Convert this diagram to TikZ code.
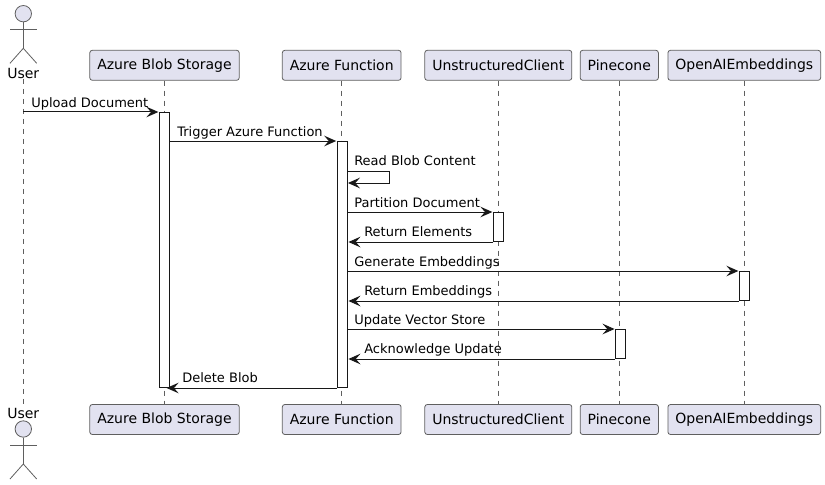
\documentclass[tikz,border=0pt]{standalone}
\usepackage{fontspec}
\setmainfont{DejaVu Sans}
\usetikzlibrary{arrows.meta}
\definecolor{boxfill}{HTML}{E2E2F0}
\definecolor{boxline}{HTML}{5F5F5F}
\definecolor{msgline}{HTML}{181818}
\tikzset{
  party/.style={draw=boxline, fill=boxfill, line width=0.6pt, rounded corners=1.9pt,
    minimum height=22.5pt, inner xsep=5.6pt, inner ysep=0pt, font=\fontsize{10.5pt}{12pt}\selectfont, text=black},
  life/.style={draw=boxline, line width=0.5pt, dash pattern=on 3.75pt off 3.75pt},
  bar/.style={draw=msgline, fill=white, line width=0.75pt, minimum width=7.5pt, inner sep=0pt},
  msg/.style={draw=msgline, line width=0.75pt, shorten >=0.5pt,
    -{Stealth[length=9pt, width=8pt, inset=3.5pt]}},
  msgtext/.style={anchor=base west, inner sep=0pt, font=\fontsize{9.75pt}{12pt}\selectfont, text=black},
  actorline/.style={draw=boxline, line width=0.6pt},
  actorhead/.style={circle, draw=boxline, fill=boxfill, line width=0.6pt, minimum size=12.3pt, inner sep=0pt},
  actorname/.style={inner sep=0pt, font=\fontsize{10.5pt}{12pt}\selectfont, text=black}
}
\begin{document}
\begin{tikzpicture}[x=0.75pt, y=-0.75pt]
  \useasboundingbox (0,0) rectangle (825,485);

  % participants
  \node (blobT) at (164.5, 65.3) [party] {Azure Blob Storage};
  \node (funcT) at (341.7, 65.3) [party] {Azure Function};
  \node (unstT) at (498.3, 65.3) [party] {UnstructuredClient};
  \node (pineT) at (619.3, 65.3) [party] {Pinecone};
  \node (embT)  at (744.3, 65.3) [party] {OpenAIEmbeddings};

  \node (blobB) at (164.5, 419.5) [party] {Azure Blob Storage};
  \node (funcB) at (341.7, 419.5) [party] {Azure Function};
  \node (unstB) at (498.3, 419.5) [party] {UnstructuredClient};
  \node (pineB) at (619.3, 419.5) [party] {Pinecone};
  \node (embB)  at (744.3, 419.5) [party] {OpenAIEmbeddings};

  % actor, top and bottom
  \node (userT) at (23.3, 73.5) [actorname] {User};
  \node (userB) at (23.3, 413.0) [actorname] {User};
  \node (headT) at (23.3, 13.7) [actorhead] {};
  \node (headB) at (23.3, 429.0) [actorhead] {};

  \draw [actorline] (headT.south) -- (23.3, 48.3);
  \draw [actorline] (10.0, 29.0) -- (36.7, 29.0);
  \draw [actorline] (10.0, 63.3) -- (23.3, 48.3) -- (36.7, 63.3);
  \draw [actorline] (headB.south) -- (23.3, 464.0);
  \draw [actorline] (10.0, 445.0) -- (36.7, 445.0);
  \draw [actorline] (10.0, 479.0) -- (23.3, 464.0) -- (36.7, 479.0);

  % lifelines
  \draw [life] (userT) -- (userB);
  \draw [life] (blobT) -- (blobB);
  \draw [life] (funcT) -- (funcB);
  \draw [life] (unstT) -- (unstB);
  \draw [life] (pineT) -- (pineB);
  \draw [life] (embT) -- (embB);

  % activations
  \node (barBlob) at (164.5, 250.0) [bar, minimum height=206.25pt] {};
  \node (barFunc) at (342.3, 264.5) [bar, minimum height=184.5pt] {};
  \node (barUnst) at (498.5, 227.0) [bar, minimum height=21.75pt] {};
  \node (barEmb)  at (744.5, 286.0) [bar, minimum height=21.75pt] {};
  \node (barPine) at (620.7, 344.0) [bar, minimum height=21.75pt] {};

  \coordinate (selfA) at (347.3, 171.0);
  \coordinate (selfB) at (389.5, 171.0);
  \coordinate (selfC) at (389.5, 183.0);
  \coordinate (selfD) at (347.3, 183.0);
  \coordinate (delEnd) at (166.0, 0.0);

  % messages
  \draw [msg] (headT |- barBlob.north) -- (barBlob.north west);
  \draw [msg] (barBlob.east |- barFunc.north) -- (barFunc.north west);
  \draw [msg] (selfA) -- (selfB) -- (selfC) -- (selfD);
  \draw [msg] (barFunc.east |- barUnst.north) -- (barUnst.north west);
  \draw [msg] (barUnst.south west) -- (barFunc.east |- barUnst.south);
  \draw [msg] (barFunc.east |- barEmb.north) -- (barEmb.north west);
  \draw [msg] (barEmb.south west) -- (barFunc.east |- barEmb.south);
  \draw [msg] (barFunc.east |- barPine.north) -- (barPine.north west);
  \draw [msg] (barPine.south west) -- (barFunc.east |- barPine.south);
  \draw [msg] (barFunc.south west) -- (delEnd |- barFunc.south);

  % message labels
  \node (lUpload) at (31.0, 107.7) [msgtext] {Upload Document};
  \node (lTrigger) at (177.0, 136.7) [msgtext] {Trigger Azure Function};
  \node (lRead) at (354.0, 165.7) [msgtext] {Read Blob Content};
  \node (lPart) at (354.0, 207.7) [msgtext] {Partition Document};
  \node (lElem) at (364.0, 236.7) [msgtext] {Return Elements};
  \node (lGen) at (354.0, 266.7) [msgtext] {Generate Embeddings};
  \node (lEmb) at (364.0, 295.7) [msgtext] {Return Embeddings};
  \node (lVec) at (354.0, 324.7) [msgtext] {Update Vector Store};
  \node (lAck) at (364.0, 353.7) [msgtext] {Acknowledge Update};
  \node (lDel) at (182.0, 382.7) [msgtext] {Delete Blob};
\end{tikzpicture}
\end{document}
